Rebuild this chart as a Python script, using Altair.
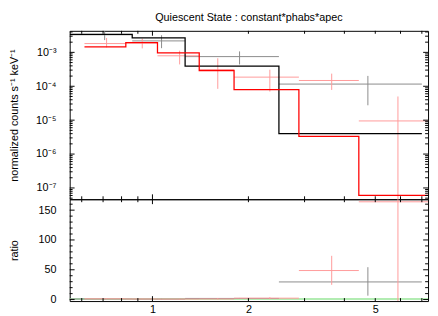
import altair as alt
import pandas as pd

TITLE = "Quiescent State : constant*phabs*apec"
Y_TITLE = "normalized counts s⁻¹ keV⁻¹"
R_TITLE = "ratio"
FONT = "Liberation Sans"

# axis ranges
x_domain = [0.55, 7.32]
y_domain = [4.65e-8, 4.32e-3]
r_domain = [-2.5, 168.3]

# tick labels
x_label_values = [1, 2, 5]
y_exponents = [-7, -6, -5, -4, -3]
y_labels = ["10⁻⁷", "10⁻⁶", "10⁻⁵", "10⁻⁴", "10⁻³"]
r_label_values = [0, 50, 100, 150]

# tick marks
x_major = [1]
x_minor = [0.6, 0.7, 0.8, 0.9, 2, 3, 4, 5, 6, 7]
y_major = [1e-7, 1e-6, 1e-5, 1e-4, 1e-3]
y_minor = [m * 10.0 ** e for e in range(-8, -2) for m in range(2, 10)
           if y_domain[0] <= m * 10.0 ** e <= y_domain[1]]
r_major = [0, 50, 100, 150]
r_minor = [10, 20, 30, 40, 60, 70, 80, 90, 110, 120, 130, 140, 160]

# black data (grey crosses)
blk_lo = [0.55, 0.864, 1.266, 2.493]
blk_hi = [0.864, 1.266, 2.493, 7.0]
blk_x = [0.708, 1.068, 1.876, 4.74]
blk_y = [3.3e-3, 2.18e-3, 7.5e-4, 1.16e-4]
blk_ylo = [2.3e-3, 1.33e-3, 4.4e-4, 2.75e-5]
blk_yhi = [4.18e-3, 3.2e-3, 1.07e-3, 2.02e-4]
blk_r = [0.98, 0.82, 1.9, 29.6]
blk_rlo = [0.68, 0.5, 1.1, 6.6]
blk_rhi = [1.24, 1.2, 2.7, 54.3]

# black model
blk_edges = [0.55, 0.864, 1.266, 2.493, 7.0]
blk_model = [3.38e-3, 2.66e-3, 3.94e-4, 3.98e-6]

# red data (light red crosses)
red_lo = [0.612, 0.825, 1.037, 1.402, 1.803, 2.880, 4.44]
red_hi = [0.825, 1.037, 1.402, 1.803, 2.880, 4.44, 7.32]
red_x = [0.718, 0.929, 1.217, 1.603, 2.335, 3.65, 5.89]
red_y = [1.82e-3, 1.88e-3, 7.92e-4, 3.02e-4, 1.86e-4, 1.48e-4, 9.5e-6]
red_ylo = [1.40e-3, 1.31e-3, 4.41e-4, 8.4e-5, 6.98e-5, 7.8e-5, 1e-12]
red_yhi = [2.66e-3, 2.54e-3, 1.12e-3, 6.7e-4, 3.08e-4, 2.36e-4, 5.0e-5]
red_r = [1.25, 0.97, 0.82, 1.03, 2.33, 48.7, 164]
red_rlo = [0.96, 0.67, 0.45, 0.29, 0.87, 24.7, -480]
red_rhi = [1.82, 1.31, 1.15, 2.3, 3.86, 73.4, 830]

# red model
red_edges = [0.612, 0.825, 1.037, 1.402, 1.803, 2.880, 4.44, 7.32]
red_model = [1.46e-3, 1.94e-3, 9.7e-4, 2.92e-4, 7.98e-5, 3.33e-6, 6.07e-8]

ratio_line = [1]

W, H1, H2 = 366, 172, 104
BLACK_DATA = "#8a8a8a"
RED_DATA = "#ff9a9a"
GREEN = "#98e698"

xs = alt.Scale(type="log", domain=x_domain, nice=False)
ys = alt.Scale(type="log", domain=y_domain, nice=False)
rs = alt.Scale(type="linear", domain=r_domain, nice=False, zero=False)

label_expr = " : ".join(
    f"round(log(datum.value)/LN10) == {e} ? '{l}'" for e, l in zip(y_exponents, y_labels)
) + " : ''"

AX_COMMON = dict(ticks=False, domain=False, grid=False, labelFontSize=11, titleFontSize=11,
                 titleFontWeight="normal", labelColor="black", titleColor="black")
top_y_axis = alt.Axis(values=y_major, labelExpr=label_expr, labelPadding=14, titleX=-51,
                      title=Y_TITLE, **AX_COMMON)
bot_y_axis = alt.Axis(values=r_label_values, labelPadding=14, titleX=-51, title=R_TITLE,
                      **AX_COMMON)
bot_x_axis = alt.Axis(values=x_label_values, format="~g", labelPadding=3, title=None,
                      **AX_COMMON)

blk_df = pd.DataFrame(dict(lo=blk_lo, hi=blk_hi, x=blk_x, y=blk_y, ylo=blk_ylo,
                           yhi=blk_yhi, r=blk_r, rlo=blk_rlo, rhi=blk_rhi))
red_df = pd.DataFrame(dict(lo=red_lo, hi=red_hi, x=red_x, y=red_y, ylo=red_ylo,
                           yhi=red_yhi, r=red_r, rlo=red_rlo, rhi=red_rhi))
blk_m = pd.DataFrame(dict(e=blk_edges, v=blk_model + [blk_model[-1]]))
red_m = pd.DataFrame(dict(e=red_edges, v=red_model + [red_model[-1]]))


def ticks(values, orient, xscale, xaxis, yscale, yaxis, w, h, length):
    df = pd.DataFrame({"v": values})
    base = alt.Chart(df).mark_rule(color="black", strokeWidth=1)
    if orient == "left":
        return base.encode(y=alt.Y("v:Q", scale=yscale, axis=yaxis), x=alt.value(0), x2=alt.value(length))
    if orient == "right":
        return base.encode(y=alt.Y("v:Q", scale=yscale, axis=yaxis), x=alt.value(w), x2=alt.value(w - length))
    if orient == "top":
        return base.encode(x=alt.X("v:Q", scale=xscale, axis=xaxis), y=alt.value(0), y2=alt.value(length))
    return base.encode(x=alt.X("v:Q", scale=xscale, axis=xaxis), y=alt.value(h), y2=alt.value(h - length))


def crosses(df, color, yf, ylo, yhi, yscale, xaxis, yaxis):
    h = alt.Chart(df).mark_rule(color=color, strokeWidth=1, clip=True).encode(
        x=alt.X("lo:Q", scale=xs, axis=xaxis), x2="hi:Q",
        y=alt.Y(f"{yf}:Q", scale=yscale, axis=yaxis))
    v = alt.Chart(df).mark_rule(color=color, strokeWidth=1, clip=True).encode(
        x=alt.X("x:Q", scale=xs, axis=xaxis),
        y=alt.Y(f"{ylo}:Q", scale=yscale, axis=yaxis), y2=f"{yhi}:Q")
    return [h, v]


def panel_ticks(yscale, yaxis, xaxis, ymaj, ymin, h):
    return [ticks(ymaj, "left", xs, xaxis, yscale, yaxis, W, h, 5),
            ticks(ymin, "left", xs, xaxis, yscale, yaxis, W, h, 3),
            ticks(ymaj, "right", xs, xaxis, yscale, yaxis, W, h, 5),
            ticks(ymin, "right", xs, xaxis, yscale, yaxis, W, h, 3),
            ticks(x_major, "top", xs, xaxis, yscale, yaxis, W, h, 5),
            ticks(x_minor, "top", xs, xaxis, yscale, yaxis, W, h, 3),
            ticks(x_major, "bottom", xs, xaxis, yscale, yaxis, W, h, 5),
            ticks(x_minor, "bottom", xs, xaxis, yscale, yaxis, W, h, 3)]


# ---------- top panel ----------
blk_model_layer = alt.Chart(blk_m).mark_line(color="black", strokeWidth=1.3,
                                             interpolate="step-after", clip=True).encode(
    x=alt.X("e:Q", scale=xs, axis=None), y=alt.Y("v:Q", scale=ys, axis=top_y_axis))
red_model_layer = alt.Chart(red_m).mark_line(color="#ff0000", strokeWidth=1.3,
                                             interpolate="step-after", clip=True).encode(
    x=alt.X("e:Q", scale=xs, axis=None), y=alt.Y("v:Q", scale=ys, axis=top_y_axis))

top_layers = (crosses(blk_df, BLACK_DATA, "y", "ylo", "yhi", ys, None, top_y_axis)
              + crosses(red_df, RED_DATA, "y", "ylo", "yhi", ys, None, top_y_axis)
              + [blk_model_layer, red_model_layer]
              + panel_ticks(ys, top_y_axis, None, y_major, y_minor, H1))

top = alt.layer(*top_layers).properties(
    width=W, height=H1,
    title=alt.TitleParams(TITLE, anchor="middle", frame="group", fontSize=11,
                          fontWeight="normal", color="black", offset=8))

# ---------- bottom panel ----------
green = alt.Chart(pd.DataFrame({"r": ratio_line})).mark_rule(color=GREEN, strokeWidth=1.6).encode(
    y=alt.Y("r:Q", scale=rs, axis=bot_y_axis))
xaxis_layer = alt.Chart(pd.DataFrame({"v": x_label_values})).mark_rule(opacity=0).encode(
    x=alt.X("v:Q", scale=xs, axis=bot_x_axis))

bot_layers = ([green, xaxis_layer]
              + crosses(blk_df, BLACK_DATA, "r", "rlo", "rhi", rs, bot_x_axis, bot_y_axis)
              + crosses(red_df, RED_DATA, "r", "rlo", "rhi", rs, bot_x_axis, bot_y_axis)
              + panel_ticks(rs, bot_y_axis, bot_x_axis, r_major, r_minor, H2))

bottom = alt.layer(*bot_layers).properties(width=W, height=H2)

chart = alt.vconcat(top, bottom, spacing=0, bounds="flush").properties(padding=0).configure(
    font=FONT).configure_view(stroke="black", strokeWidth=1)

chart.save("out.html", embed_options={"renderer": "svg", "actions": False})
